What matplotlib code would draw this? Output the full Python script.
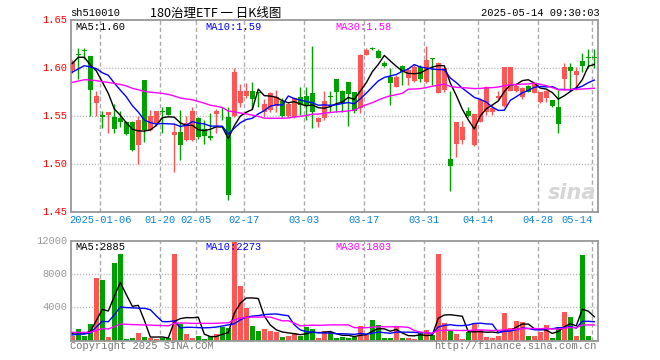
import matplotlib
matplotlib.use("Agg")
import matplotlib.pyplot as plt
import matplotlib.transforms as mtransforms
import numpy as np
import pandas as pd

# ---------------- data ----------------
session_days = {
    "2024-12": [27, 30, 31],
    "2025-01": [2, 3, 6, 7, 8, 9, 10, 13, 14, 15, 16, 17, 20, 21, 22, 23, 24, 27],
    "2025-02": [5, 6, 7, 10, 11, 12, 13, 14, 17, 18, 19, 20, 21, 24, 25, 26, 27, 28],
    "2025-03": [3, 4, 5, 6, 7, 10, 11, 12, 13, 14, 17, 18, 19, 20, 21, 24, 25, 26, 27, 28, 31],
    "2025-04": [1, 2, 3, 7, 8, 9, 10, 11, 14, 15, 16, 17, 18, 21, 22, 23, 24, 25, 28, 29, 30],
    "2025-05": [6, 7, 8, 9, 12, 13, 14],
}
dates = [f"{m}-{d:02d}" for m, ds in session_days.items() for d in ds]

opens = [1.598, 1.615, 1.619, 1.613, 1.564, 1.551, 1.551, 1.549, 1.548, 1.544,
         1.544, 1.520, 1.588, 1.536, 1.543, 1.556, 1.560, 1.531, 1.534, 1.525,
         1.525, 1.548, 1.5365, 1.5295, 1.5524, 1.5545, 1.5497, 1.550, 1.5635, 1.5712,
         1.5767, 1.575, 1.555, 1.5566, 1.5608, 1.566, 1.5503, 1.549, 1.5705, 1.5712,
         1.5747, 1.5444, 1.5486, 1.5708, 1.5885, 1.5764, 1.5854, 1.575, 1.5583, 1.6139,
         1.621, 1.6184, 1.6059, 1.5913, 1.5809, 1.6024, 1.590, 1.5872, 1.601, 1.5861,
         1.6106, 1.5747, 1.5774, 1.5056, 1.5212, 1.5253, 1.5556, 1.5201, 1.5444, 1.5549,
         1.5549, 1.5694, 1.5608, 1.5764, 1.5764, 1.5705, 1.5816, 1.5747, 1.5646, 1.5694,
         1.567, 1.560, 1.5889, 1.601, 1.5931, 1.6076, 1.6115, 1.6115]
highs = [1.609, 1.621, 1.621, 1.613, 1.576, 1.556, 1.555, 1.563, 1.556, 1.545,
         1.545, 1.550, 1.588, 1.557, 1.556, 1.560, 1.560, 1.543, 1.557, 1.550,
         1.560, 1.549, 1.546, 1.553, 1.558, 1.560, 1.560, 1.600, 1.584, 1.5844,
         1.5854, 1.5757, 1.568, 1.5757, 1.5774, 1.5688, 1.5653, 1.5705, 1.581, 1.5802,
         1.6233, 1.5497, 1.5764, 1.5764, 1.589, 1.5774, 1.586, 1.5757, 1.615, 1.6208,
         1.622, 1.6198, 1.608, 1.600, 1.593, 1.6035, 1.600, 1.603, 1.603, 1.6233,
         1.6107, 1.6065, 1.6017, 1.5764, 1.5441, 1.5451, 1.560, 1.5524, 1.5688, 1.5816,
         1.5618, 1.5767, 1.6017, 1.6017, 1.5844, 1.5809, 1.5826, 1.5844, 1.5757, 1.577,
         1.567, 1.5774, 1.6059, 1.6052, 1.6017, 1.6156, 1.6198, 1.6198]
lows = [1.595, 1.589, 1.610, 1.550, 1.550, 1.538, 1.533, 1.533, 1.539, 1.531,
        1.514, 1.500, 1.523, 1.535, 1.540, 1.533, 1.551, 1.492, 1.505, 1.524,
        1.524, 1.526, 1.521, 1.525, 1.533, 1.546, 1.463, 1.549, 1.560, 1.5688,
        1.558, 1.560, 1.550, 1.555, 1.555, 1.5497, 1.549, 1.5486, 1.551, 1.5462,
        1.5375, 1.539, 1.546, 1.5549, 1.5549, 1.5549, 1.540, 1.5538, 1.5538, 1.6135,
        1.619, 1.6104, 1.6017, 1.5618, 1.5802, 1.5826, 1.583, 1.586, 1.586, 1.5844,
        1.5826, 1.574, 1.5757, 1.4726, 1.508, 1.5212, 1.5497, 1.519, 1.5444, 1.5514,
        1.5514, 1.567, 1.560, 1.5764, 1.5757, 1.5677, 1.575, 1.574, 1.5635, 1.5653,
        1.560, 1.533, 1.5774, 1.5764, 1.5774, 1.5965, 1.600, 1.600]
closes = [1.607, 1.614, 1.618, 1.577, 1.571, 1.549, 1.5545, 1.537, 1.544, 1.532,
          1.515, 1.546, 1.536, 1.550, 1.5556, 1.555, 1.551, 1.534, 1.520, 1.543,
          1.555, 1.528, 1.5295, 1.527, 1.5556, 1.554, 1.468, 1.5965, 1.5764, 1.5764,
          1.568, 1.574, 1.5628, 1.574, 1.5705, 1.5503, 1.5628, 1.5688, 1.5618, 1.5608,
          1.555, 1.5486, 1.566, 1.5702, 1.5757, 1.5635, 1.5729, 1.5556, 1.6139, 1.6191,
          1.6205, 1.6111, 1.6024, 1.5851, 1.5913, 1.5965, 1.598, 1.601, 1.5885, 1.6087,
          1.610, 1.6059, 1.600, 1.4986, 1.5441, 1.5385, 1.5503, 1.5524, 1.567, 1.5809,
          1.5583, 1.5712, 1.6017, 1.6017, 1.582, 1.5792, 1.5757, 1.5844, 1.5757, 1.5767,
          1.5611, 1.5417, 1.6017, 1.5976, 1.5972, 1.6028, 1.6112, 1.6112]
volumes = [560, 1400, 560, 2000, 7560, 7280, 400, 9360, 10400, 200,
           320, 920, 480, 280, 200, 360, 280, 10400, 2000, 800,
           320, 560, 240, 560, 800, 1680, 1560, 11880, 6560, 3920,
           1760, 1160, 1400, 1160, 1040, 480, 600, 920, 560, 1640,
           1400, 320, 1160, 1000, 320, 440, 320, 400, 1760, 680,
           2480, 1880, 320, 320, 1760, 320, 320, 200, 960, 1280,
           640, 10400, 2120, 1160, 800, 200, 1040, 2120, 1280, 440,
           320, 560, 3320, 1520, 2360, 2240, 560, 560, 1040, 1900,
           320, 1700, 3400, 2900, 560, 10300, 560, 80]

# sessions before the first visible candle (only feed the moving averages)
prior_closes = [1.572, 1.578, 1.585, 1.590, 1.583, 1.576, 1.570, 1.574, 1.580, 1.588,
                1.592, 1.585, 1.578, 1.572, 1.575, 1.582, 1.586, 1.580, 1.576, 1.578,
                1.580, 1.585, 1.590, 1.588, 1.592, 1.5815, 1.618, 1.617, 1.6015]
prior_volumes = [1300, 900, 1500, 1100, 800, 1200, 1400, 1000, 900, 1600,
                 1300, 1100, 1000, 1200, 900, 1300, 1100, 1000, 1250, 1250,
                 500, 400, 600, 450, 500, 900, 1100, 850, 1040]

tick_dates = ["2025-01-06", "2025-01-20", "2025-02-05", "2025-02-17", "2025-03-03",
              "2025-03-17", "2025-03-31", "2025-04-14", "2025-04-28", "2025-05-14"]
tick_labels = ["2025-01-06", "01-20", "02-05", "02-17", "03-03",
               "03-17", "03-31", "04-14", "04-28", "05-14"]
price_ticks = [1.45, 1.50, 1.55, 1.60, 1.65]
vol_ticks = [4000, 8000, 12000]
ma_periods = [5, 10, 30]
price_ma_labels = ["1.60", "1.59", "1.58"]
vol_ma_labels = ["2885", "2273", "1803"]

title_code = "sh510010"
title_name = "180治理ETF 一 日K线图"
title_time = "2025-05-14 09:30:03"

# ---------------- style ----------------
plt.rcParams['font.family'] = ['Liberation Mono', 'Noto Sans CJK SC', 'DejaVu Sans']
RED = '#ff5555'
GREEN = '#00a000'
MA_COLORS = ['#000000', '#0000ff', '#ff00ff']
GRID = '#aaaaaa'
FRAME = '#999999'
FS = 7.5

W, H = 660, 360
fig = plt.figure(figsize=(W / 100, H / 100), dpi=100)
fig.patch.set_facecolor('white')

L, R = 70.7, 597.7
ax = fig.add_axes([L / W, 1 - 212.3 / H, (R - L) / W, (212.3 - 20.3) / H])
axv = fig.add_axes([L / W, 1 - 340.7 / H, (R - L) / W, 100 / H])

n = len(dates)
idx = np.arange(n)
o = np.array(opens); h = np.array(highs); l = np.array(lows); c = np.array(closes)
v = np.array(volumes)
up = c >= o
cols = np.where(up, RED, GREEN)

all_c = pd.Series(list(prior_closes) + list(closes))
all_v = pd.Series(list(prior_volumes) + list(volumes))
np_ = len(prior_closes)

xmin = (L - 72.3) / 6.0
xmax = (R - 72.3) / 6.0
date_pos = {d: i for i, d in enumerate(dates)}
grid_x = [date_pos[d] - 1 / 3 for d in tick_dates]

for a in (ax, axv):
    a.set_xlim(xmin, xmax)
    a.set_xticks([]); a.set_yticks([])
    for s in a.spines.values():
        s.set_color(FRAME); s.set_linewidth(1.3)
    for gx in grid_x:
        a.axvline(gx, color=GRID, lw=1, ls=(0, (3, 2)), zorder=0)

# ---- price panel ----
ax.set_ylim(1.45, 1.65)
for y in price_ticks[1:-1]:
    ax.axhline(y, color=GRID, lw=1, ls=(0, (0.7, 1.4)), zorder=0)

ax.vlines(idx, l, h, colors=cols, lw=1, zorder=2)
body_lo = np.minimum(o, c)
body_h = np.maximum(np.abs(c - o), 0.0009)
ax.bar(idx, body_h, bottom=body_lo, width=0.76, color=cols, lw=0, zorder=3)

for p, col in zip(ma_periods, MA_COLORS):
    ma = all_c.rolling(p).mean().values[np_:]
    ax.plot(idx, ma, color=col, lw=1, zorder=4)

for y in price_ticks:
    ax.text(-0.006, y, f"{y:.2f}", transform=mtransforms.blended_transform_factory(ax.transAxes, ax.transData),
            ha='right', va='center', color='#ff0000', fontsize=FS)

label_x = [75, 205, 335]
for (p, col, txt, lx) in zip(ma_periods, MA_COLORS, price_ma_labels, label_x):
    fig.text(lx / W, 1 - 26.5 / H, f"MA{p}:{txt}", color=col, fontsize=FS, ha='left', va='center')

# x labels
for gx, lab in zip(grid_x, tick_labels):
    last = lab == tick_labels[-1]
    ax.text(gx, -0.012, lab, transform=mtransforms.blended_transform_factory(ax.transData, ax.transAxes),
            ha='right' if last else 'center', va='top', color='#0a84d8', fontsize=FS)

# sina watermark
ax.text(0.997, 0.05, "sina", transform=ax.transAxes, ha='right', va='bottom', fontsize=15,
        fontstyle='italic', fontweight='bold', color='#d6d6d6', family='DejaVu Sans', zorder=1)

# ---- volume panel ----
axv.set_ylim(0, 12000)
for y in vol_ticks[:-1]:
    axv.axhline(y, color=GRID, lw=1, ls=(0, (0.7, 1.4)), zorder=0)
axv.bar(idx, v, width=0.76, color=cols, lw=0, zorder=2)
for p, col in zip(ma_periods, MA_COLORS):
    ma = all_v.rolling(p).mean().values[np_:]
    axv.plot(idx, ma, color=col, lw=1, zorder=4)
for y in vol_ticks:
    axv.text(-0.006, y, f"{y}", transform=mtransforms.blended_transform_factory(axv.transAxes, axv.transData),
             ha='right', va='center', color='#999999', fontsize=FS)
for (p, col, txt, lx) in zip(ma_periods, MA_COLORS, vol_ma_labels, label_x):
    fig.text(lx / W, 1 - 246.7 / H, f"MA{p}:{txt}", color=col, fontsize=FS, ha='left', va='center')

# ---- header / footer ----
fig.text(70 / W, 1 - 13 / H, title_code, fontsize=FS, ha='left', va='center', color='#000000')
fig.text(150 / W, 1 - 13 / H, title_name, fontsize=9, ha='left', va='center', color='#000000',
         family=['Noto Sans CJK SC', 'DejaVu Sans'])
fig.text(600 / W, 1 - 13 / H, title_time, fontsize=FS, ha='right', va='center', color='#000000')
fig.text(70 / W, 1 - 346 / H, "Copyright 2025 SINA.COM", fontsize=FS, ha='left', va='center', color='#777777')
fig.text(597 / W, 1 - 346 / H, "http://finance.sina.com.cn", fontsize=FS, ha='right', va='center', color='#777777')

fig.savefig("out.png", dpi=100)
